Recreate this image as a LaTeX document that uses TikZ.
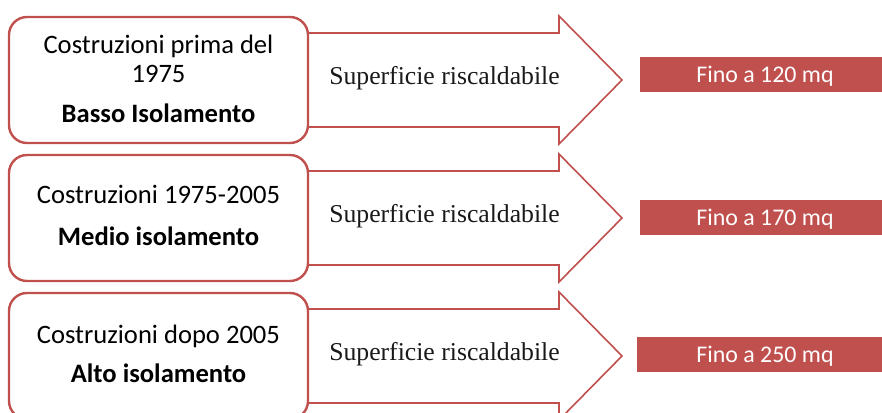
\documentclass[tikz,border=0pt]{standalone}
\usepackage{fontspec}
\setmainfont{Carlito}
\newfontfamily\serifa{Liberation Serif}
\definecolor{accred}{HTML}{C0504D}
\begin{document}
\begin{tikzpicture}[x=1pt,y=-1pt,
  roundbox/.style={draw=accred, line width=2.4pt, fill=white, rounded corners=18pt,
    minimum width=299pt, minimum height=126pt, inner sep=0pt},
  arrowshape/.style={draw=accred, line width=1.6pt, fill=white, line join=miter},
  barbox/.style={fill=accred, draw=none, inner sep=0pt, minimum height=35pt},
  boxtext/.style={font=\fontsize{26.6}{30}\selectfont, anchor=base, inner sep=0pt},
  boldtext/.style={font=\fontsize{26.6}{30}\selectfont\bfseries, anchor=base, inner sep=0pt},
  seriftext/.style={font=\serifa\fontsize{25.7}{30}\selectfont, text=black!90, anchor=base, inner sep=0pt},
  bartext/.style={font=\fontsize{23.9}{28}\selectfont, text=white, anchor=base, inner sep=0pt}]
\useasboundingbox (0,0) rectangle (882,412);
\clip (0,0) rectangle (882,412);
% arrows
\foreach \c/\n in {80/1,218/2,356/3}{
  \draw[arrowshape] (250,\c-47) -- (559,\c-47) -- (559,\c-64) -- (622,\c)
     -- (559,\c+64) -- (559,\c+47) -- (250,\c+47) -- cycle;
}
% boxes
\node[roundbox] (b1) at (158.5,80) {};
\node[roundbox] (b2) at (158.5,218) {};
\node[roundbox] (b3) at (158.5,356) {};
% bars
\node[barbox, minimum width=251pt] (r1) at (765.5,74.5) {};
\node[barbox, minimum width=251pt] (r2) at (765.5,217.5) {};
\node[barbox, minimum width=254pt] (r3) at (764,354) {};
% box texts
\node[boxtext] (t1a) at (158.5,53) {Costruzioni prima del};
\node[boxtext] (t1b) at (158.5,82) {1975};
\node[boldtext] (t1c) at (158.5,122) {Basso Isolamento};
\node[boxtext] (t2a) at (158.5,203) {Costruzioni 1975-2005};
\node[boldtext] (t2b) at (158.5,245) {Medio isolamento};
\node[boxtext] (t3a) at (158.5,343) {Costruzioni dopo 2005};
\node[boldtext] (t3b) at (158.5,382) {Alto isolamento};
% arrow texts
\node[seriftext] (s1) at (444.5,84) {Superficie riscaldabile};
\node[seriftext] (s2) at (444.5,222) {Superficie riscaldabile};
\node[seriftext] (s3) at (444.5,360) {Superficie riscaldabile};
% bar texts
\node[bartext] (f1) at (765,82) {Fino a 120 mq};
\node[bartext] (f2) at (765,225) {Fino a 170 mq};
\node[bartext] (f3) at (765,362) {Fino a 250 mq};
\end{tikzpicture}
\end{document}
